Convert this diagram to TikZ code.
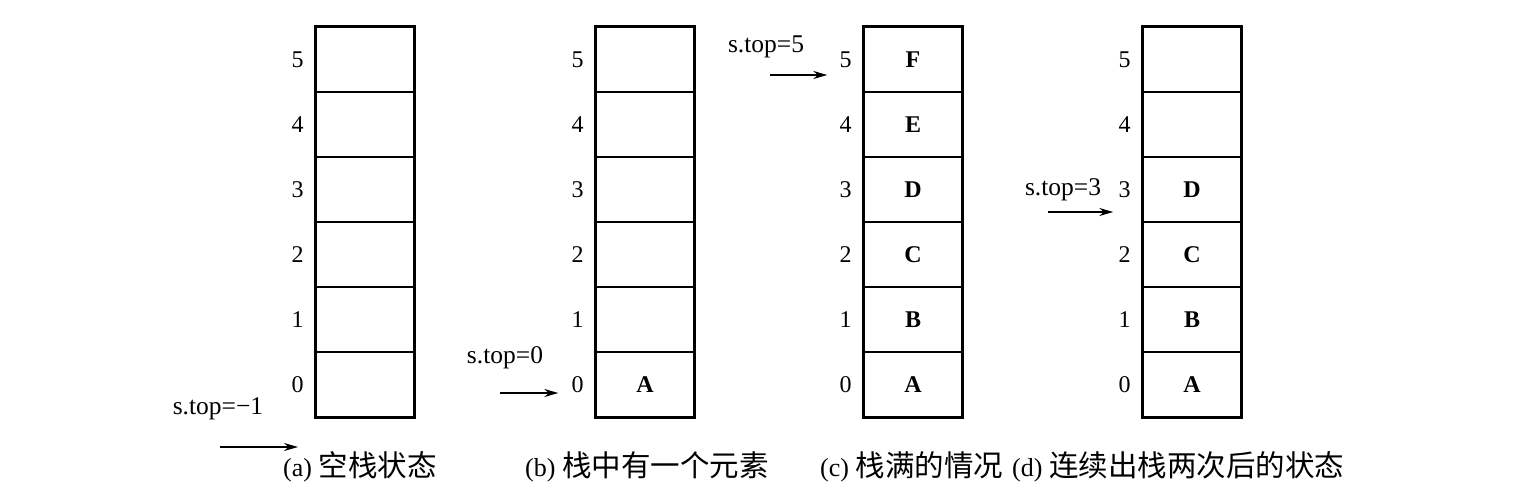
\documentclass[tikz,border=0pt]{standalone}
\usepackage{fontspec}
\setmainfont{Liberation Serif}
\newfontfamily\cjk{Noto Sans CJK SC}
\usetikzlibrary{arrows.meta,calc}
\begin{document}
\begin{tikzpicture}[x=1pt,y=-1pt,
  cell/.style={draw, line width=1.6pt, minimum width=97pt, minimum height=65pt, inner sep=0pt, font=\fontsize{24}{28}\selectfont\bfseries},
  idx/.style={font=\fontsize{24}{28}\selectfont, inner sep=0pt, anchor=east},
  ptr/.style={font=\fontsize{25.5}{28}\selectfont, inner sep=0pt},
  arr/.style={-{Stealth[length=14pt,width=8pt]}, line width=1.8pt},
  captext/.style={font=\fontsize{26}{28}\selectfont, anchor=west, inner sep=0pt},
  outer/.style={draw, line width=3pt}]
\useasboundingbox[fill=white] (0,0) rectangle (1515,500);

\foreach \s/\cx/\n in {a/365/0, b/645/1, c/913/6, d/1192/4} {
  \foreach \i in {0,...,5} {
    \pgfmathsetmacro{\yy}{27+65*(5-\i)+32.5}
    \node[cell] (\s\i) at (\cx,\yy) {\ifnum\i<\n\relax\ifcase\i A\or B\or C\or D\or E\or F\fi\fi};
    \node[idx] (\s n\i) at ($(\s\i.west)+(-12,0)$) {\i};
  }
  \draw[outer] (\s5.north west) rectangle (\s0.south east);
}

% pointers
\node[ptr] (pa) at (218,409) {s.top=−1};
\coordinate (pa1) at (220,447); \coordinate (pa2) at (298,447);
\draw[arr] (pa1) -- (pa2);

\node[ptr] (pb) at (505,358) {s.top=0};
\coordinate (pb1) at (500,393);
\draw[arr] (pb1) -- ($(pb1 -| bn0.west)+(-13,0)$) coordinate (pb2);

\node[ptr] (pc) at (766,47) {s.top=5};
\coordinate (pc1) at (770,75);
\draw[arr] (pc1) -- ($(pc1 -| cn5.west)+(-12,0)$) coordinate (pc2);

\node[ptr] (pd) at (1063,190) {s.top=3};
\coordinate (pd1) at (1048,212);
\draw[arr] (pd1) -- ($(pd1 -| dn3.west)+(-5,0)$) coordinate (pd2);

% captions
\node[captext] (ca) at (283,467) {(a) {\cjk\fontsize{29.5}{32}\selectfont 空栈状态}};
\node[captext] (cb) at (525,467) {(b) {\cjk\fontsize{29.5}{32}\selectfont 栈中有一个元素}};
\node[captext] (cc) at (820,467) {(c) {\cjk\fontsize{29.5}{32}\selectfont 栈满的情况}};
\node[captext] (cd) at (1012,467) {(d) {\cjk\fontsize{29.5}{32}\selectfont 连续出栈两次后的状态}};
\end{tikzpicture}
\end{document}
